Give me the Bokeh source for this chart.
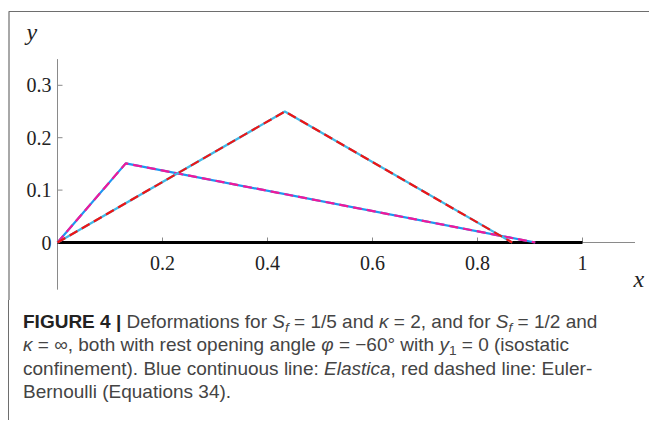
from bokeh.plotting import figure
from bokeh.models import Range1d, Div
from bokeh.layouts import column
from bokeh.core.properties import value
from bokeh.embed import file_html
from bokeh.resources import INLINE

# ---- data ----
# S_f = 1/5, kappa = 2
elastica_a_x = [0.0, 0.13, 0.91]
elastica_a_y = [0.0, 0.151, 0.0]
euler_a_x = [0.0, 0.13, 0.91]
euler_a_y = [0.0, 0.151, 0.0]
# S_f = 1/2, kappa = inf
elastica_b_x = [0.0, 0.433, 0.866]
elastica_b_y = [0.0, 0.25, 0.0]
euler_b_x = [0.0, 0.433, 0.866]
euler_b_y = [0.0, 0.25, 0.0]

support_x = [0.0, 1.0]
support_y = [0.0, 0.0]

x_ticks = [0.2, 0.4, 0.6, 0.8, 1.0]
x_tick_labels = ["0.2", "0.4", "0.6", "0.8", "1"]
y_ticks = [0.0, 0.1, 0.2, 0.3]
y_tick_labels = ["0", "0.1", "0.2", "0.3"]
x_axis_extent = [0.0, 1.1]
y_axis_extent = [-0.09, 0.35]

# ---- layout constants (pixels) ----
W, H = 649, 300
PX0, SX = 57, 525.0   # x pixel of data 0, px per unit
PY0, SY = 242, 524.0  # y pixel of data 0, px per unit

p = figure(width=W, height=H, output_backend="svg", toolbar_location=None,
           x_axis_type=None, y_axis_type=None, min_border=0,
           x_range=Range1d((0 - PX0) / SX, (W - PX0) / SX),
           y_range=Range1d((PY0 - H) / SY, (PY0 - 0) / SY))
p.outline_line_color = None
p.background_fill_color = "white"
p.border_fill_color = "white"

# frame of the figure panel (top and left edges)
frame_col = "#6e6e6e"
fx0, fx1 = (8.5 - PX0) / SX, (W - PX0) / SX
fy0, fy1 = (PY0 - H) / SY, (PY0 - 11) / SY
p.line([fx0, fx0, fx1], [fy0, fy1, fy1], line_color=frame_col, line_width=1.2)

axis_col = "#8a8a8a"
# axes lines
p.line(x_axis_extent, [0, 0], line_color=axis_col, line_width=1)
p.line([0, 0], y_axis_extent, line_color=axis_col, line_width=1)
# ticks
tl = 5.0
p.segment(x0=x_ticks, y0=[0] * len(x_ticks), x1=x_ticks,
          y1=[tl / SY] * len(x_ticks), line_color=axis_col, line_width=1)
p.segment(x0=[0] * 3, y0=y_ticks[1:], x1=[tl / SX] * 3, y1=y_ticks[1:],
          line_color=axis_col, line_width=1)

tick_font = value("Liberation Serif")
p.text(x=x_ticks, y=[0] * len(x_ticks), text=x_tick_labels,
       text_font=tick_font, text_font_size="20px", text_color="#222",
       text_align="center", text_baseline="top", y_offset=13)
p.text(x=[0] * len(y_ticks), y=y_ticks, text=y_tick_labels,
       text_font=tick_font, text_font_size="20px", text_color="#222",
       text_align="right", text_baseline="middle", x_offset=-6)

p.text(x=[-0.059], y=[0.402], text=["y"], text_font=tick_font,
       text_font_style="italic", text_font_size="24px", text_color="#222",
       text_align="left", text_baseline="middle")
p.text(x=[1.097], y=[-0.0706], text=["x"], text_font=tick_font,
       text_font_style="italic", text_font_size="24px", text_color="#222",
       text_align="left", text_baseline="middle")

# support line
p.line(support_x, support_y, line_color="black", line_width=2.8)

# curves
p.line(elastica_a_x, elastica_a_y, line_color="#1e96f0", line_width=2.2)
p.line(euler_a_x, euler_a_y, line_color="#f0189a", line_width=2.2,
       line_dash="9 5")
p.line(elastica_b_x, elastica_b_y, line_color="#40b8e6", line_width=2.2)
p.line(euler_b_x, euler_b_y, line_color="#ee1515", line_width=2.2,
       line_dash="9 5")

sub = "font-size:0.72em;vertical-align:-0.3em;line-height:0;"
caption = (
    '<div style="font-family:\'Liberation Sans\',sans-serif;font-size:19px;'
    'color:#444;line-height:23.3px;padding-left:14px;padding-top:10px;'
    'white-space:nowrap;">'
    '<b style="color:#222;">FIGURE 4 |</b> Deformations for '
    f'<i>S</i><sub style="{sub}"><i>f</i></sub> = 1/5 and <i>κ</i> = 2, and for '
    f'<i>S</i><sub style="{sub}"><i>f</i></sub> = 1/2 and<br>'
    '<i>κ</i> = ∞, both with rest opening angle <i>φ</i> = −60° with '
    f'<i>y</i><sub style="{sub}">1</sub> = 0 (isostatic<br>'
    'confinement). Blue continuous line: <i>Elastica</i>, red dashed line: Euler-<br>'
    'Bernoulli (Equations 34).'
    '</div>'
)
div = Div(text=caption, width=W - 8, height=420 - H, margin=(0, 0, 0, 8),
          styles={"border-left": f"1.2px solid {frame_col}"})

layout = column(p, div, spacing=0)
open("out.html", "w").write(file_html(layout, INLINE))
